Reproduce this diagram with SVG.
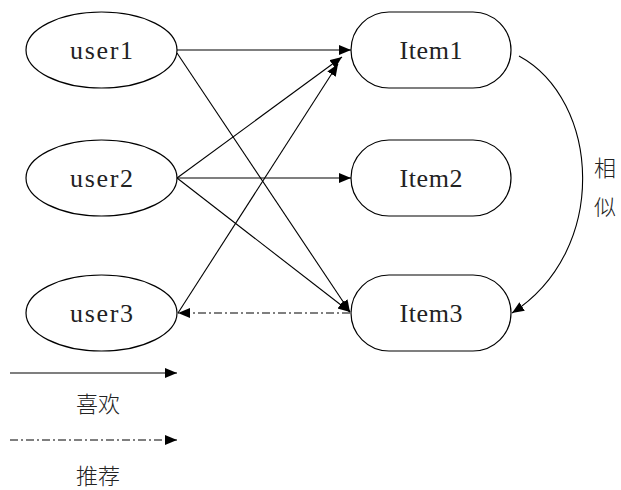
<svg xmlns="http://www.w3.org/2000/svg" width="621" height="490" viewBox="0 0 621 490">
  <style>
    .shape { fill: #ffffff; stroke: #000000; stroke-width: 1.2; }
    .label { font-family: "Liberation Serif", "DejaVu Serif", serif; font-size: 26px; fill: #222222; text-anchor: middle; dominant-baseline: central; }
    .cjk { font-family: "Noto Sans CJK SC", "Noto Sans CJK JP", sans-serif; font-weight: 300; font-size: 22px; fill: #222222; text-anchor: middle; dominant-baseline: central; }
    .edge { fill: none; stroke: #000000; stroke-width: 1.1; marker-end: url(#arrow); }
    .dashdot { stroke-dasharray: 8 3 2 3; }
  </style>
  <defs>
    <marker id="arrow" markerUnits="userSpaceOnUse" markerWidth="13" markerHeight="11" refX="12" refY="5" orient="auto">
      <path d="M0,0 L12,5 L0,10 Z" fill="#000000"/>
    </marker>
  </defs>
  <rect width="621" height="490" fill="#ffffff"/>

  <!-- users -->
  <g id="user1">
    <ellipse class="shape" cx="101.5" cy="50" rx="75.5" ry="38"/>
    <text class="label" x="101.5" y="50" textLength="63" lengthAdjust="spacing">user1</text>
  </g>
  <g id="user2">
    <ellipse class="shape" cx="101.5" cy="178" rx="75.5" ry="38"/>
    <text class="label" x="101.5" y="178" textLength="63" lengthAdjust="spacing">user2</text>
  </g>
  <g id="user3">
    <ellipse class="shape" cx="101.5" cy="313" rx="75.5" ry="38"/>
    <text class="label" x="101.5" y="313" textLength="63" lengthAdjust="spacing">user3</text>
  </g>

  <!-- items -->
  <g id="item1">
    <rect class="shape" x="351" y="12" width="160" height="76" rx="38" ry="38"/>
    <text class="label" x="431" y="50" textLength="63" lengthAdjust="spacing">Item1</text>
  </g>
  <g id="item2">
    <rect class="shape" x="351" y="140" width="160" height="76" rx="38" ry="38"/>
    <text class="label" x="431" y="178" textLength="63" lengthAdjust="spacing">Item2</text>
  </g>
  <g id="item3">
    <rect class="shape" x="351" y="275" width="160" height="76" rx="38" ry="38"/>
    <text class="label" x="431" y="313" textLength="63" lengthAdjust="spacing">Item3</text>
  </g>

  <!-- connectors -->
  <g id="connectors">
    <path class="edge" d="M177,50 L351,50"/>
    <path class="edge" d="M177,53 L350,312"/>
    <path class="edge" d="M177,178 L342,57"/>
    <path class="edge" d="M177,178 L351,178"/>
    <path class="edge" d="M177,178 L350,312"/>
    <path class="edge" d="M178,313 L338,64"/>
    <path class="edge dashdot" d="M350,313 L178,313"/>
    <path class="edge" d="M519,56 C600,100 610,250 512,313"/>
    <path class="edge" d="M10,373 L177,373"/>
    <path class="edge dashdot" d="M10,440 L177,440"/>
  </g>

  <!-- labels -->
  <g id="similar-label">
    <text class="cjk" x="605" y="166">相</text>
    <text class="cjk" x="605" y="205">似</text>
  </g>
  <g id="legend">
    <text class="cjk" x="98" y="402">喜欢</text>
    <text class="cjk" x="98" y="474">推荐</text>
  </g>
</svg>
